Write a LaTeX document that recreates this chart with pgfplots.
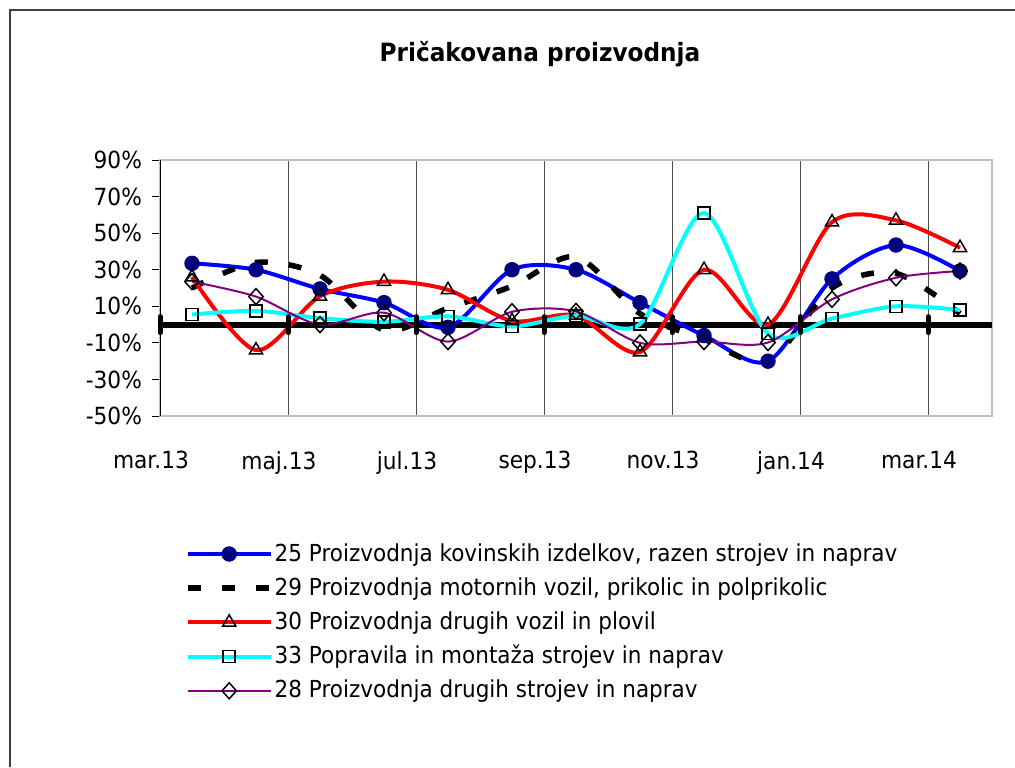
\documentclass[border=0pt]{standalone}
\usepackage{pgfplots}
\pgfplotsset{compat=1.18}
\usepackage{fontspec}
\setmainfont{DejaVu Sans}[FakeStretch=0.92]
\definecolor{navyc}{RGB}{0,0,128}
\definecolor{bluec}{RGB}{0,0,255}
\definecolor{redc}{RGB}{255,0,0}
\definecolor{cyanc}{RGB}{0,255,255}
\definecolor{purplec}{RGB}{128,0,128}
\definecolor{boxgray}{RGB}{192,192,192}
\begin{document}
\begin{tikzpicture}[x=1pt,y=1pt]
\path[use as bounding box] (0,0) rectangle (507.5,-383.5);
\draw[black!75, line width=0.75pt] (5,-383.5) -- (5,-5) -- (507.5,-5);
\node[font=\fontsize{12.6}{14}\selectfont\bfseries] at (270,-27) {Pričakovana proizvodnja};
\begin{axis}[
  at={(80pt,-208pt)}, anchor=south west,
  scale only axis, width=416pt, height=128pt,
  xmin=-0.5, xmax=12.5, ymin=-50, ymax=90,
  clip=false,
  font=\fontsize{11.8}{14}\selectfont,
  axis line style={draw=boxgray, line width=0.75pt},
  xtick={-0.5,1.5,3.5,5.5,7.5,9.5,11.5},
  xticklabels={mar.13,maj.13,jul.13,sep.13,nov.13,jan.14,mar.14},
  xmajorgrids, major grid style={black!70, line width=0.5pt},
  x tick style={draw=none},
  xticklabel style={yshift=-10pt, xshift=-4.5pt},
  ytick={-50,-30,-10,10,30,50,70,90},
  yticklabels={-50\%,-30\%,-10\%,10\%,30\%,50\%,70\%,90\%},
  ytick pos=left, tick align=outside, major tick length=4pt,
  y tick style={black, line width=0.5pt},
  yticklabel style={xshift=-1.5pt},
  legend style={at={(axis description cs:0.030,-0.496)}, anchor=north west,
    draw=none, fill=none, inner sep=0pt, outer sep=0pt, row sep=5.6pt, column sep=0.6pt,
    nodes={inner sep=0pt, text height=9pt, text depth=2.5pt, anchor=base west},
    font=\fontsize{11.7}{14}\selectfont},
  legend cell align=left,
  legend image code/.code={\draw[mark repeat=2,mark phase=2] plot coordinates {(0pt,3.5pt) (20.75pt,3.5pt) (41.5pt,3.5pt)};},
]
% zero line
\addplot[black, line width=3pt, mark=|, mark size=4pt, mark indices={1,2,3,4,5,6,7},
  mark options={line width=2.5pt, line cap=round}, forget plot]
  coordinates {(-0.5,0) (1.5,0) (3.5,0) (5.5,0) (7.5,0) (9.5,0) (11.5,0) (12.5,0)};
% 25
\addplot[bluec, line width=2pt, smooth, tension=0.5, mark=*, mark size=3.6pt,
  mark options={fill=navyc, draw=navyc, line width=0.5pt}]
  coordinates {(0,33.5) (1,30) (2,19.5) (3,12) (4,-1.5) (5,30) (6,30) (7,12) (8,-6) (9,-20) (10,25) (11,43.5) (12,29.3)};
\addlegendentry{25 Proizvodnja kovinskih izdelkov, razen strojev in naprav}
% 29
\addplot[black, line width=2.75pt, smooth, tension=0.5, dash pattern=on 6.5pt off 10.5pt]
  coordinates {(0,20) (1,34) (2,27) (3,-3) (4,9) (5,21) (6,37) (7,6) (8,-8) (9,-20) (10,20) (11,28) (12,6)};
\addlegendentry{29 Proizvodnja motornih vozil, prikolic in polprikolic}
% 30
\addplot[redc, line width=2pt, smooth, tension=0.5, mark=triangle, mark size=3.8pt,
  mark options={fill=white, draw=black, line width=0.75pt, solid}]
  coordinates {(0,26) (1,-14) (2,15.5) (3,23.5) (4,19) (5,2) (6,5) (7,-15) (8,30) (9,0) (10,56) (11,57) (12,42)};
\addlegendentry{30 Proizvodnja drugih vozil in plovil}
% 33
\addplot[cyanc, line width=2pt, smooth, tension=0.5, mark=square, mark size=3pt,
  mark options={fill=white, draw=black, line width=0.75pt}]
  coordinates {(0,5.5) (1,7.5) (2,3.5) (3,1.5) (4,4.5) (5,-1) (6,4.8) (7,0.3) (8,61) (9,-5) (10,3.3) (11,10) (12,8)};
\addlegendentry{33 Popravila in montaža strojev in naprav}
% 28
\addplot[purplec, line width=1pt, smooth, tension=0.5, mark=diamond, mark size=4pt,
  mark options={fill=white, draw=black, line width=0.75pt, xscale=1.2}]
  coordinates {(0,23.5) (1,15.3) (2,0) (3,6.5) (4,-9.3) (5,7) (6,7.2) (7,-10) (8,-9.3) (9,-9.8) (10,13.8) (11,25.6) (12,29.3)};
\addlegendentry{28 Proizvodnja drugih strojev in naprav}
\draw[black, line width=0.5pt] (axis cs:-0.5,-50) -- (axis cs:-0.5,90);
\end{axis}
\end{tikzpicture}
\end{document}
